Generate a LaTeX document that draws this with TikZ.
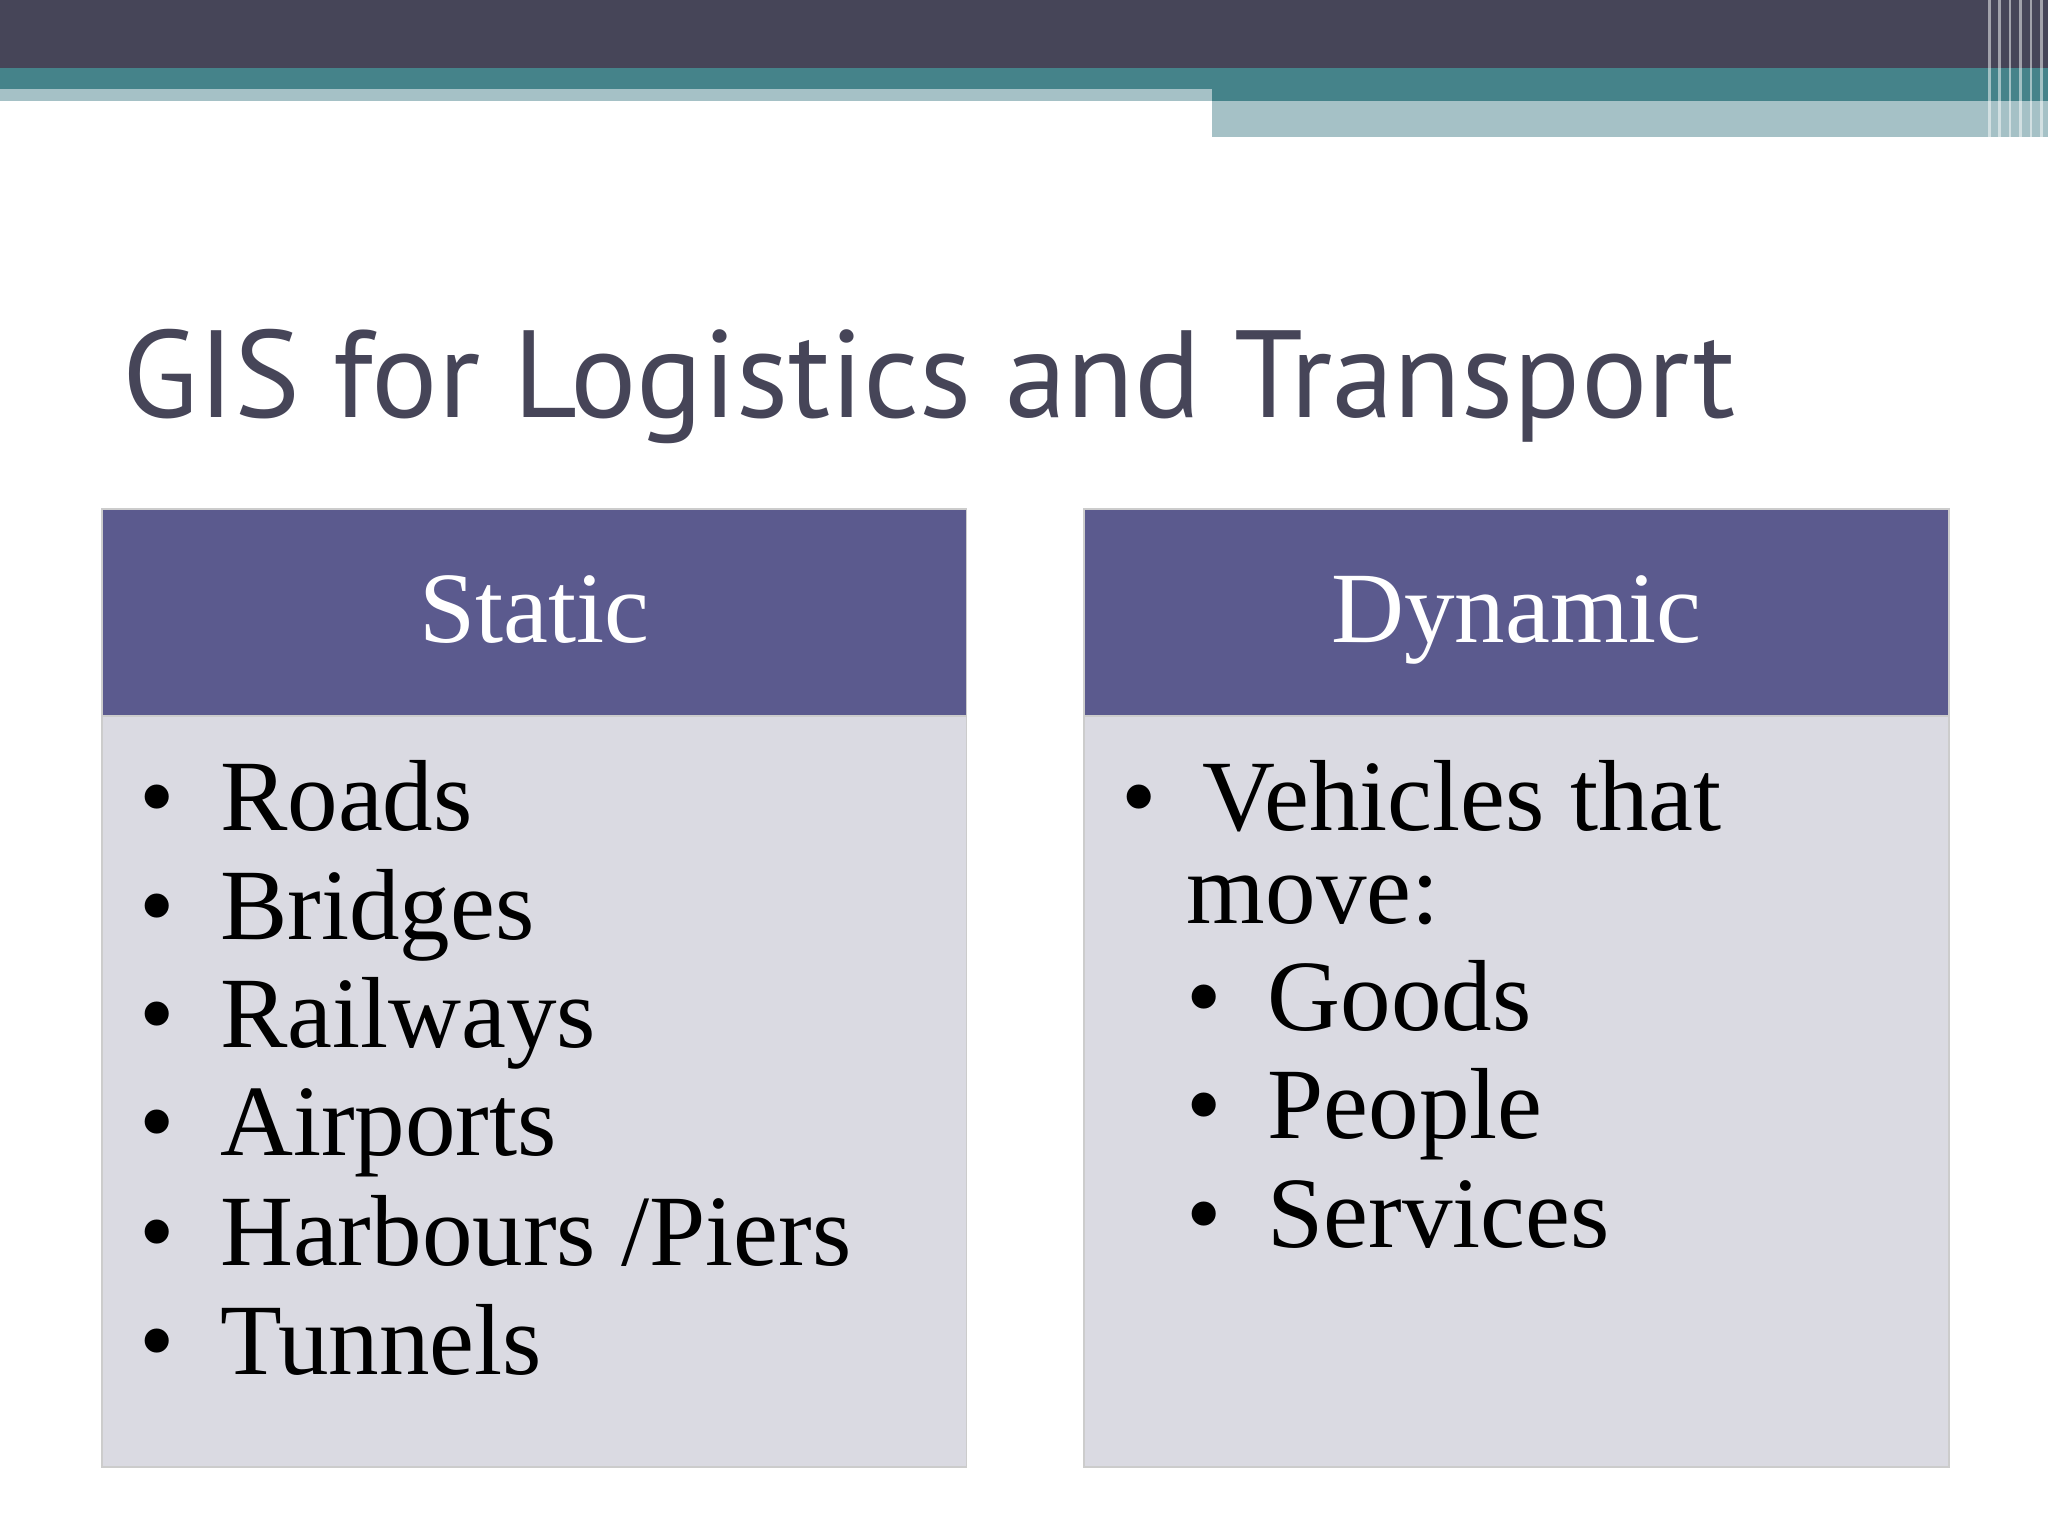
\documentclass[tikz,border=0pt]{standalone}
\usepackage{fontspec}
\setmainfont{Liberation Serif}
\newfontfamily\titlefont{PT Sans}
\definecolor{darkbar}{HTML}{464558}
\definecolor{tealbar}{HTML}{45838A}
\definecolor{lightbar}{HTML}{A5C1C6}
\definecolor{headfill}{HTML}{5B5A8E}
\definecolor{bodyfill}{HTML}{DADAE2}
\definecolor{titlecol}{HTML}{464558}
\begin{document}
\begin{tikzpicture}[x=0.01cm,y=-0.01cm,
  head/.style={fill=headfill,draw=gray!40,inner sep=0},
  bodybox/.style={fill=bodyfill,draw=gray!40,inner sep=0},
  item/.style={anchor=base west,inner sep=0,font=\fontsize{22}{26}\selectfont,text=black}]
\useasboundingbox (0,0) rectangle (1568,1176);
\fill[white] (0,0) rectangle (1568,1176);
\fill[darkbar] (0,0) rectangle (1568,52);
\fill[tealbar] (0,52) rectangle (1568,68);
\fill[lightbar] (0,68) rectangle (928,77);
\fill[tealbar] (928,68) rectangle (1568,77);
\fill[lightbar] (928,77) rectangle (1568,105);
\foreach \x in {1522,1530,1538,1546,1554,1562}{\fill[white,opacity=0.5] (\x,0) rectangle (\x+2,105);}
\node[anchor=base west,inner sep=0,text=titlecol,font=\titlefont\fontsize{27}{32}\selectfont] (title) at (93,320) {GIS for Logistics and Transport};
% left
\path[bodybox] (78,548) rectangle (740,1123);
\path[head] (78,390) rectangle (740,548);
\node[anchor=base,inner sep=0,text=white,font=\fontsize{22}{26}\selectfont] (st) at (409,492) {Static};
\foreach \t/\y [count=\i] in {Roads/636,Bridges/719,Railways/802,Airports/885,{Harbours /Piers}/969,Tunnels/1052}{
  \node[item] (l\i) at (106,\y) {\textbullet\hspace{0.45em}\t};}
% right
\path[bodybox] (830,548) rectangle (1492,1123);
\path[head] (830,390) rectangle (1492,548);
\node[anchor=base,inner sep=0,text=white,font=\fontsize{22}{26}\selectfont] (dy) at (1161,492) {Dynamic};
\node[item] (r1) at (858,636) {\textbullet\hspace{0.45em}Vehicles that};
\node[item] (r2) at (908,707) {move:};
\foreach \t/\y [count=\i] in {Goods/789,People/872,Services/955}{
  \node[item] (s\i) at (908,\y) {\textbullet\hspace{0.45em}\t};}
\end{tikzpicture}
\end{document}
